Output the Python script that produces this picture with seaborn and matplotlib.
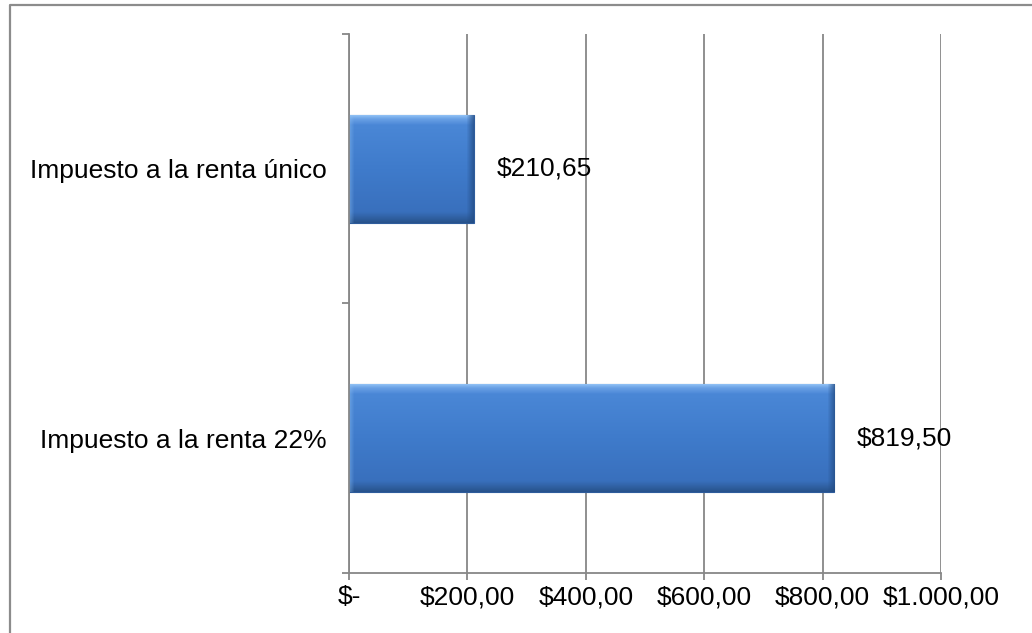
import matplotlib
matplotlib.use("Agg")
import matplotlib.pyplot as plt
import seaborn as sns
import pandas as pd
import numpy as np
from matplotlib.lines import Line2D
from matplotlib.colors import LinearSegmentedColormap

# --- Data ---
categorias = ["Impuesto a la renta único", "Impuesto a la renta 22%"]
montos = [210.65, 819.50]
etiquetas = ["$210,65", "$819,50"]
x_ticks = [0, 200, 400, 600, 800, 1000]
x_labels = ["$-", "$200,00", "$400,00", "$600,00", "$800,00", "$1.000,00"]

# --- Style ---
sns.set_theme(style="white")
plt.rcParams["font.family"] = ["Liberation Sans", "DejaVu Sans"]
gris = "#878787"
fs = 19

df = pd.DataFrame({"categoria": categorias, "monto": montos})

fig = plt.figure(figsize=(10.32, 6.33), dpi=100)
ax = fig.add_axes([0.3382, 0.0948, 0.5736, 0.8515])

sns.barplot(data=df, x="monto", y="categoria", orient="h", color="#3d77c7",
            width=0.4, saturation=1, ax=ax)

# --- bevel-like shading on the bars ---
cmap = LinearSegmentedColormap.from_list("bevel", [
    (0.0, "#8fc0f4"), (0.03, "#6ba2e6"), (0.09, "#4a87d6"),
    (0.5, "#3f7bcb"), (0.9, "#3970bd"), (0.96, "#2f5f9f"), (1.0, "#27528c")])
grad = np.linspace(0, 1, 300).reshape(-1, 1)
px_per_unit = 592 / 1000
for bar in ax.patches:
    x0, y0 = bar.get_x(), bar.get_y()
    w, h = bar.get_width(), bar.get_height()
    bar.set_edgecolor("#2e5c9c")
    bar.set_linewidth(0.8)
    z = bar.get_zorder()
    im = ax.imshow(grad, cmap=cmap, aspect="auto", origin="upper",
                   extent=(x0, x0 + w, y0 + h, y0), zorder=z + 0.1)
    im.set_clip_path(bar)
    # darker right edge, lighter left edge
    n = max(int(w * px_per_unit), 2)
    side = np.zeros((1, n, 4))
    cols = np.arange(n)
    right = np.clip(1 - (n - 1 - cols) / 7.0, 0, 1)
    left = np.clip(1 - cols / 5.0, 0, 1)
    side[0, :, :3] = np.where(right[:, None] > 0, [0.14, 0.30, 0.52], [0.55, 0.75, 0.95])
    side[0, :, 3] = np.maximum(right * 0.75, left * 0.45)
    im2 = ax.imshow(side, aspect="auto", origin="upper",
                    extent=(x0, x0 + w, y0 + h, y0), zorder=z + 0.2)
    im2.set_clip_path(bar)

ax.set_xlim(0, 1000)
ax.set_ylim(1.5, -0.5)

# value labels
for i, (v, lab) in enumerate(zip(montos, etiquetas)):
    ax.annotate(lab, xy=(v, i), xytext=(16.5, 0), textcoords="offset points",
                ha="left", va="center", fontsize=fs, color="black")

# axes
ax.set_xticks(x_ticks)
ax.set_xticklabels(x_labels, fontsize=fs)
ax.set_yticks([0, 1])
ax.set_yticklabels(categorias, fontsize=fs)
ax.set_yticks([-0.5, 0.5, 1.5], minor=True)
ax.set_xlabel("")
ax.set_ylabel("")

ax.xaxis.grid(True, color=gris, linewidth=1.3)
ax.set_axisbelow(True)
for s in ["top", "right"]:
    ax.spines[s].set_visible(False)
for s in ["left", "bottom"]:
    ax.spines[s].set_color(gris)
    ax.spines[s].set_linewidth(1.3)

ax.tick_params(axis="x", bottom=True, length=5, width=1.3, color=gris, pad=4,
               labelcolor="black")
ax.tick_params(axis="y", which="major", left=True, length=0, pad=16,
               labelcolor="black")
ax.tick_params(axis="y", which="minor", left=True, length=5, width=1.3, color=gris)

# chart border (top and left visible in the crop)
fig.add_artist(Line2D([9.5 / 1032, 9.5 / 1032, 1.0], [0.0, 1 - 4.5 / 633, 1 - 4.5 / 633],
                      transform=fig.transFigure, color="#8c8c8c", linewidth=1.6))

fig.savefig("out.png", dpi=100)
